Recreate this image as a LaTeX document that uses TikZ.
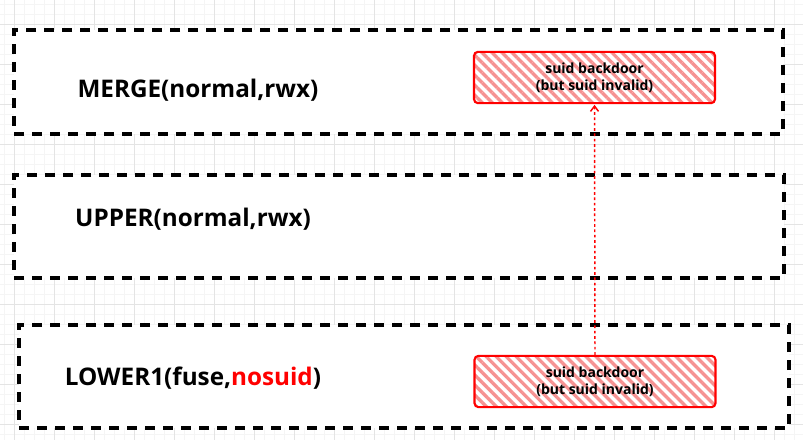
\documentclass[tikz,border=0pt]{standalone}
\usepackage{fontspec}
\setmainfont{Open Sans}
\usetikzlibrary{patterns.meta,arrows.meta}
\definecolor{hatchred}{RGB}{246,146,146}
\definecolor{gridminor}{RGB}{245,245,245}
\definecolor{gridmajor}{RGB}{228,228,228}
\tikzset{
	layer/.style={draw=black,line width=2.3pt,dash pattern=on 7.5pt off 6pt,fill=white,inner sep=0pt},
	layertext/.style={font=\bfseries\fontsize{18.2}{21}\selectfont,text=black},
	backdoor/.style={draw=red,line width=1.6pt,rounded corners=3pt,inner sep=0pt,
		minimum width=180.75pt,minimum height=38.5pt,
		pattern={Lines[angle=-45,distance=5.3pt,line width=2.5pt]},pattern color=hatchred,
		align=center,font=\bfseries\fontsize{10.5}{12.75}\selectfont},
}
\begin{document}
\begin{tikzpicture}[line cap=butt,>=stealth,x=0.75pt,y=-0.75pt]
	\useasboundingbox (0,0) rectangle (803,440);
	% background grid
	\fill[white] (0,0) rectangle (803,440);
	\foreach \gx in {4,14,...,804} \draw[gridminor,line width=0.5pt] (\gx,0)--(\gx,440);
	\foreach \gy in {4,14,...,444} \draw[gridminor,line width=0.5pt] (0,\gy)--(803,\gy);
	\foreach \gx in {14,54,...,794} \draw[gridmajor,line width=0.6pt] (\gx,0)--(\gx,440);
	\foreach \gy in {24,64,...,424} \draw[gridmajor,line width=0.6pt] (0,\gy)--(803,\gy);
	% layers
	\node[layer,minimum width=576.75pt,minimum height=78pt] (merge) at (398.5,82) {};
	\node[layer,minimum width=577.5pt,minimum height=77.25pt] (upper) at (399,226.5) {};
	\node[layer,minimum width=577.5pt,minimum height=77.25pt] (lower) at (404,376.5) {};
	\node[layertext] (mergetxt) at (198,90) {MERGE(normal,rwx)};
	\node[layertext] (uppertxt) at (193,219) {UPPER(normal,rwx)};
	\node[layertext] (lowertxt) at (193,378) {LOWER1(fuse,{\color{red}nosuid})};
	% suid files
	\node[backdoor] (updoor) at (594.5,77.5) {suid backdoor\\(but suid invalid)};
	\node[backdoor] (lowdoor) at (595,381.5) {suid backdoor\\(but suid invalid)};
	\draw[red,line width=1.1pt,dash pattern=on 2pt off 2pt,-{Straight Barb[length=4pt,width=6pt]}] (lowdoor.north)--(updoor.south);
\end{tikzpicture}
\end{document}
